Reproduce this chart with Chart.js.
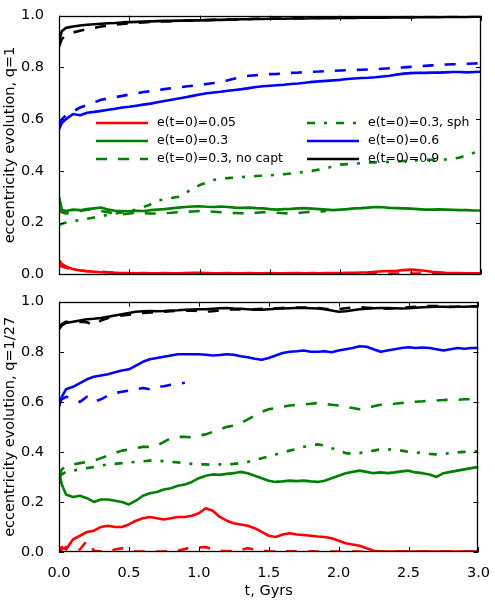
<!DOCTYPE html>
<html>
<head>
<meta charset="utf-8">
<script src="https://cdn.jsdelivr.net/npm/chart.js@4.4.0/dist/chart.umd.min.js"></script>
<style>
  body { margin: 0; background: #fff; }
  #wrap { position: relative; width: 495px; height: 600px; }
  canvas { position: absolute; left: 0; }
</style>
</head>
<body>
<div id="wrap">
  <canvas id="topPanel" width="495" height="290" style="top:0"></canvas>
  <canvas id="bottomPanel" width="495" height="314" style="top:286px"></canvas>
</div>
<script>
// sample times (Gyr)
const times = [0, 0.02, 0.05, 0.1, 0.15, 0.2, 0.25, 0.3, 0.35, 0.4,
  0.45, 0.5, 0.55, 0.6, 0.65, 0.7, 0.75, 0.8, 0.85, 0.9,
  0.95, 1.0, 1.05, 1.1, 1.15, 1.2, 1.25, 1.3, 1.35, 1.4,
  1.45, 1.5, 1.55, 1.6, 1.65, 1.7, 1.75, 1.8, 1.85, 1.9,
  1.95, 2.0, 2.05, 2.1, 2.15, 2.2, 2.25, 2.3, 2.35, 2.4,
  2.45, 2.5, 2.55, 2.6, 2.65, 2.7, 2.75, 2.8, 2.85, 2.9,
  2.95, 3.0];

const xTicks = [0, 0.5, 1.0, 1.5, 2.0, 2.5, 3.0];
const yTicks = [0, 0.2, 0.4, 0.6, 0.8, 1.0];

const legendLabels = ['e(t=0)=0.05', 'e(t=0)=0.3', 'e(t=0)=0.3, no capt',
  'e(t=0)=0.3, sph', 'e(t=0)=0.6', 'e(t=0)=0.9'];

// ---- q = 1 ----
const q1_e005 = [0.055, 0.04, 0.03, 0.02, 0.015, 0.012, 0.01, 0.008, 0.007, 0.006,
  0.005, 0.005, 0.004, 0.005, 0.004, 0.004, 0.005, 0.004, 0.004, 0.005,
  0.006, 0.006, 0.005, 0.004, 0.004, 0.005, 0.004, 0.004, 0.005, 0.004,
  0.004, 0.005, 0.004, 0.004, 0.005, 0.005, 0.004, 0.005, 0.004, 0.005,
  0.005, 0.005, 0.006, 0.006, 0.007, 0.008, 0.01, 0.012, 0.013, 0.014,
  0.016, 0.018, 0.016, 0.014, 0.01, 0.008, 0.006, 0.005, 0.005, 0.004,
  0.004, 0.004];
const q1_e005_nc = [0.035, 0.03, 0.025, 0.02, 0.016, 0.012, 0.012, 0.01, 0.008, 0.006,
  0.004, 0.003, 0.003, 0.003, 0.003, 0.003, 0.003, 0.003, 0.003, 0.003,
  0.003, 0.003, 0.003, 0.003, 0.003, 0.003, 0.003, 0.003, 0.003, 0.003,
  0.003, 0.003, 0.003, 0.003, 0.003, 0.003, 0.003, 0.003, 0.003, 0.003,
  0.003, 0.003, 0.003, 0.003, 0.003, 0.003, 0.003, 0.003, 0.003, 0.003,
  0.003, 0.003, 0.003, 0.003, 0.003, 0.003, 0.003, 0.003, 0.003, 0.003,
  0.003, 0.003];
const q1_e03 = [0.30, 0.25, 0.245, 0.25, 0.248, 0.252, 0.255, 0.258, 0.25, 0.246,
  0.245, 0.244, 0.246, 0.245, 0.248, 0.25, 0.252, 0.255, 0.258, 0.26,
  0.262, 0.263, 0.261, 0.26, 0.262, 0.26, 0.258, 0.257, 0.258, 0.256,
  0.255, 0.252, 0.25, 0.252, 0.253, 0.255, 0.256, 0.254, 0.252, 0.25,
  0.248, 0.25, 0.252, 0.255, 0.256, 0.258, 0.26, 0.259, 0.257, 0.256,
  0.255, 0.254, 0.252, 0.25, 0.25, 0.251, 0.25, 0.249, 0.248, 0.248,
  0.247, 0.247];
const q1_e03_nc = [0.25, 0.24, 0.235, 0.24, 0.245, 0.25, 0.252, 0.245, 0.24, 0.235,
  0.232, 0.235, 0.238, 0.236, 0.235, 0.235, 0.237, 0.238, 0.24, 0.242,
  0.243, 0.245, 0.244, 0.242, 0.24, 0.238, 0.237, 0.236, 0.237, 0.238,
  0.24, 0.24, 0.238, 0.236, 0.235, 0.237, 0.24, 0.242, 0.243, 0.245,
  null, null, null, null, null, null, null, null, null, null,
  null, null, null, null, null, null, null, null, null, null,
  null, null];
const q1_e03_sph = [0.19, 0.195, 0.2, 0.205, 0.21, 0.215, 0.22, 0.225, 0.23, 0.235,
  0.24, 0.245, 0.25, 0.26, 0.27, 0.285, 0.29, 0.295, 0.30, 0.315,
  0.33, 0.345, 0.355, 0.365, 0.37, 0.372, 0.374, 0.376, 0.378, 0.38,
  0.381, 0.383, 0.385, 0.387, 0.39, 0.393, 0.396, 0.4, 0.405, 0.41,
  0.418, 0.424, 0.426, 0.428, 0.43, 0.432, 0.433, 0.434, 0.435, 0.437,
  0.438, 0.44, 0.441, 0.442, 0.443, 0.444, 0.444, 0.446, 0.452, 0.46,
  0.47, 0.478];
const q1_e06 = [0.56, 0.585, 0.60, 0.62, 0.615, 0.625, 0.628, 0.632, 0.636, 0.64,
  0.645, 0.648, 0.652, 0.656, 0.66, 0.665, 0.67, 0.675, 0.68, 0.685,
  0.69, 0.695, 0.70, 0.703, 0.706, 0.71, 0.713, 0.716, 0.72, 0.724,
  0.727, 0.729, 0.731, 0.733, 0.736, 0.738, 0.741, 0.744, 0.746, 0.748,
  0.75, 0.752, 0.755, 0.757, 0.759, 0.76, 0.762, 0.765, 0.768, 0.772,
  0.776, 0.778, 0.779, 0.779, 0.78, 0.78, 0.781, 0.782, 0.782, 0.781,
  0.782, 0.783];
const q1_e06_nc = [0.58, 0.60, 0.615, 0.63, 0.645, 0.655, 0.665, 0.675, 0.68, 0.685,
  0.69, 0.695, 0.70, 0.705, 0.708, 0.712, 0.716, 0.72, 0.723, 0.726,
  0.729, 0.732, 0.736, 0.74, 0.745, 0.75, 0.757, 0.763, 0.768, 0.77,
  0.772, 0.774, 0.775, 0.777, 0.779, 0.78, 0.782, 0.783, 0.784, 0.786,
  0.787, 0.788, 0.789, 0.79, 0.791, 0.792, 0.793, 0.795, 0.797, 0.799,
  0.80, 0.802, 0.804, 0.806, 0.808, 0.81, 0.811, 0.812, 0.813, 0.814,
  0.815, 0.816];
const q1_e09 = [0.90, 0.94, 0.953, 0.958, 0.962, 0.965, 0.967, 0.969, 0.971, 0.972,
  0.974, 0.975, 0.976, 0.977, 0.978, 0.979, 0.98, 0.98, 0.981, 0.981,
  0.982, 0.982, 0.983, 0.984, 0.984, 0.985, 0.985, 0.986, 0.986, 0.987,
  0.987, 0.988, 0.988, 0.988, 0.989, 0.989, 0.989, 0.99, 0.99, 0.99,
  0.99, 0.991, 0.991, 0.991, 0.992, 0.992, 0.992, 0.992, 0.993, 0.993,
  0.993, 0.993, 0.994, 0.994, 0.994, 0.994, 0.995, 0.995, 0.995, 0.995,
  0.996, 0.996];
const q1_e09_nc = [0.88, 0.91, 0.925, 0.935, 0.942, 0.948, 0.953, 0.958, 0.962, 0.965,
  0.968, 0.97, 0.972, 0.974, 0.976, 0.977, 0.978, 0.979, 0.98, 0.981,
  0.981, 0.982, 0.983, 0.984, 0.985, 0.985, 0.986, 0.987, 0.987, 0.988,
  0.988, 0.989, 0.989, 0.99, 0.99, 0.99, 0.991, 0.991, 0.991, 0.992,
  0.992, 0.992, 0.993, 0.993, 0.993, 0.994, 0.994, 0.994, 0.994, 0.995,
  0.995, 0.995, 0.995, 0.996, 0.996, 0.996, 0.996, 0.997, 0.997, 0.997,
  0.997, 0.998];

// ---- q = 1/27 ----
const q27_e005 = [0.0, 0.02, 0.01, 0.05, 0.065, 0.08, 0.085, 0.10, 0.105, 0.10,
  0.10, 0.11, 0.125, 0.135, 0.14, 0.135, 0.13, 0.135, 0.14, 0.14,
  0.145, 0.155, 0.175, 0.165, 0.14, 0.125, 0.115, 0.11, 0.105, 0.095,
  0.08, 0.065, 0.06, 0.07, 0.075, 0.07, 0.068, 0.065, 0.062, 0.06,
  0.055, 0.045, 0.035, 0.03, 0.025, 0.015, 0.005, 0.002, 0.002, 0.002,
  0.002, 0.002, 0.002, 0.002, 0.002, 0.002, 0.002, 0.002, 0.002, 0.002,
  0.002, 0.002];
const q27_e005_nc = [0.0, 0.01, 0.02, 0.005, 0.01, 0.045, 0.005, 0.002, 0.0, 0.01,
  0.015, 0.005, 0.002, 0.002, 0.003, 0.002, 0.002, 0.003, 0.005, 0.012,
  0.02, 0.018, 0.02, 0.01, 0.005, 0.003, 0.004, 0.008, 0.015, 0.01,
  0.005, 0.003, 0.002, 0.002, 0.003, 0.002, 0.002, 0.003, 0.002, 0.002,
  0.002, 0.002, 0.002, 0.002, 0.002, 0.002, 0.002, 0.002, 0.002, 0.002,
  0.002, 0.002, 0.002, 0.002, 0.002, 0.002, 0.002, 0.002, 0.002, 0.002,
  0.002, 0.002];
const q27_e03 = [0.32, 0.27, 0.23, 0.22, 0.225, 0.215, 0.20, 0.21, 0.21, 0.205,
  0.20, 0.19, 0.205, 0.225, 0.235, 0.24, 0.25, 0.255, 0.265, 0.27,
  0.28, 0.295, 0.305, 0.31, 0.308, 0.312, 0.315, 0.32, 0.315, 0.305,
  0.295, 0.285, 0.28, 0.282, 0.285, 0.283, 0.285, 0.282, 0.28, 0.285,
  0.295, 0.305, 0.315, 0.32, 0.325, 0.32, 0.315, 0.318, 0.315, 0.318,
  0.322, 0.325, 0.318, 0.315, 0.31, 0.30, 0.315, 0.32, 0.325, 0.33,
  0.335, 0.34];
const q27_e03_nc = [0.30, 0.33, 0.345, 0.35, 0.355, 0.36, 0.365, 0.375, 0.385, 0.395,
  0.405, 0.41, 0.415, 0.42, 0.42, 0.425, 0.44, 0.455, 0.46, 0.46,
  0.458, 0.465, 0.47, 0.48, 0.49, 0.50, 0.505, 0.515, 0.53, 0.545,
  0.56, 0.57, 0.575, 0.58, 0.585, 0.588, 0.59, 0.592, 0.595, 0.592,
  0.588, 0.585, 0.58, 0.575, 0.57, 0.575, 0.582, 0.588, 0.59, 0.592,
  0.595, 0.598, 0.60, 0.602, 0.605, 0.605, 0.607, 0.608, 0.608, 0.61,
  0.61, 0.612];
const q27_e03_sph = [0.30, 0.31, 0.32, 0.325, 0.33, 0.335, 0.34, 0.345, 0.35, 0.352,
  0.355, 0.358, 0.36, 0.362, 0.365, 0.365, 0.363, 0.36, 0.358, 0.355,
  0.352, 0.35, 0.35, 0.348, 0.35, 0.35, 0.352, 0.355, 0.36, 0.368,
  0.375, 0.382, 0.39, 0.398, 0.405, 0.412, 0.42, 0.425, 0.43, 0.425,
  0.415, 0.405, 0.395, 0.392, 0.395, 0.40, 0.405, 0.41, 0.41, 0.408,
  0.405, 0.40, 0.398, 0.395, 0.392, 0.39, 0.392, 0.395, 0.398, 0.40,
  0.402, 0.403];
const q27_e06 = [0.58, 0.62, 0.65, 0.66, 0.675, 0.69, 0.70, 0.705, 0.71, 0.718,
  0.725, 0.73, 0.745, 0.76, 0.77, 0.775, 0.78, 0.785, 0.79, 0.79,
  0.79, 0.79, 0.788, 0.785, 0.787, 0.79, 0.788, 0.782, 0.778, 0.772,
  0.768, 0.775, 0.785, 0.795, 0.80, 0.802, 0.805, 0.80, 0.80, 0.802,
  0.798, 0.805, 0.81, 0.815, 0.822, 0.82, 0.81, 0.80, 0.805, 0.81,
  0.815, 0.818, 0.815, 0.817, 0.815, 0.81, 0.805, 0.81, 0.815, 0.812,
  0.815, 0.815];
const q27_e06_nc = [0.60, 0.61, 0.62, 0.615, 0.60, 0.62, 0.60, 0.61, 0.625, 0.635,
  0.64, 0.645, 0.65, 0.655, 0.65, 0.66, 0.662, 0.668, 0.672, 0.676,
  null, null, null, null, null, null, null, null, null, null,
  null, null, null, null, null, null, null, null, null, null,
  null, null, null, null, null, null, null, null, null, null,
  null, null, null, null, null, null, null, null, null, null,
  null, null];
const q27_e09 = [0.89, 0.905, 0.915, 0.92, 0.925, 0.93, 0.932, 0.935, 0.94, 0.945,
  0.95, 0.955, 0.96, 0.962, 0.963, 0.962, 0.963, 0.965, 0.966, 0.968,
  0.969, 0.97, 0.97, 0.972, 0.974, 0.975, 0.973, 0.972, 0.97, 0.968,
  0.968, 0.97, 0.972, 0.973, 0.974, 0.975, 0.975, 0.974, 0.973, 0.97,
  0.965, 0.96, 0.962, 0.966, 0.97, 0.972, 0.974, 0.975, 0.975, 0.974,
  0.973, 0.974, 0.976, 0.978, 0.979, 0.98, 0.98, 0.979, 0.98, 0.98,
  0.981, 0.981];
const q27_e09_nc = [0.90, 0.91, 0.92, 0.915, 0.92, 0.918, 0.905, 0.925, 0.935, 0.94,
  0.945, 0.948, 0.95, 0.955, 0.957, 0.958, 0.96, 0.962, 0.963, 0.964,
  0.965, 0.962, 0.96, 0.962, 0.965, 0.968, 0.97, 0.969, 0.968, 0.97,
  0.972, 0.973, 0.974, 0.975, 0.976, 0.977, 0.977, 0.976, 0.975, 0.972,
  0.968, 0.97, 0.974, 0.977, 0.978, 0.976, 0.974, 0.973, 0.972, 0.974,
  0.976, 0.978, 0.98, 0.982, 0.983, 0.983, 0.982, 0.98, 0.98, 0.981,
  0.982, 0.982];

const dashes = { solid: [], dashed: [11, 11], dashdot: [8, 9, 3, 9] };

Chart.defaults.font.family = '"DejaVu Sans", sans-serif';
Chart.defaults.font.size = 14.5;
Chart.defaults.color = '#000';

function line(vals, color, style, slot) {
  return {
    label: slot === undefined ? '' : legendLabels[slot],
    legendSlot: slot,
    data: times.map((t, i) => ({ x: t, y: vals[i] })),
    borderColor: color,
    borderWidth: 2.6,
    borderDash: dashes[style],
    borderJoinStyle: 'round',
    pointRadius: 0,
    fill: false,
    tension: 0,
    spanGaps: false
  };
}

// frame + inward ticks on all four sides
const framePlugin = {
  id: 'frame',
  afterDatasetsDraw(chart) {
    const { ctx, chartArea: a, scales: { x, y } } = chart;
    ctx.save();
    ctx.strokeStyle = '#000';
    ctx.lineWidth = 1;
    ctx.setLineDash([]);
    ctx.beginPath();
    xTicks.forEach(v => {
      const px = Math.round(x.getPixelForValue(v)) + 0.5;
      ctx.moveTo(px, a.bottom); ctx.lineTo(px, a.bottom - 5);
      ctx.moveTo(px, a.top); ctx.lineTo(px, a.top + 5);
    });
    yTicks.forEach(v => {
      const py = Math.round(y.getPixelForValue(v)) + 0.5;
      ctx.moveTo(a.left, py); ctx.lineTo(a.left + 5, py);
      ctx.moveTo(a.right, py); ctx.lineTo(a.right - 5, py);
    });
    ctx.stroke();
    ctx.lineWidth = 1.3;
    ctx.strokeRect(Math.round(a.left) + 0.5, Math.round(a.top) + 0.5,
      Math.round(a.width) - 1, Math.round(a.height) - 1);
    ctx.restore();
  }
};

// two-column legend inside the upper panel
const legendPlugin = {
  id: 'twoColLegend',
  afterDatasetsDraw(chart) {
    const ctx = chart.ctx;
    ctx.save();
    ctx.font = '12.5px "DejaVu Sans", sans-serif';
    ctx.textBaseline = 'middle';
    ctx.fillStyle = '#000';
    chart.data.datasets.forEach(d => {
      if (d.legendSlot === undefined) return;
      const col = Math.floor(d.legendSlot / 3);
      const row = d.legendSlot % 3;
      const x0 = col ? 307 : 96;
      const yy = 123 + row * 18;
      ctx.strokeStyle = d.borderColor;
      ctx.lineWidth = d.borderWidth;
      ctx.setLineDash(d.borderDash);
      ctx.beginPath();
      ctx.moveTo(x0, yy);
      ctx.lineTo(x0 + 52, yy);
      ctx.stroke();
      ctx.fillText(d.label, x0 + 61, yy);
    });
    ctx.restore();
  }
};

function yScale(title) {
  return {
    type: 'linear', min: 0, max: 1,
    grid: { display: false }, border: { display: false },
    ticks: { stepSize: 0.2, padding: 7, callback: v => v.toFixed(1) },
    title: { display: true, text: title, padding: { top: 2, bottom: 0 } },
    afterFit: s => { s.width = 59; }
  };
}

function panelOptions(yTitle, xAxis, padding) {
  return {
    responsive: false,
    animation: false,
    devicePixelRatio: 1,
    layout: { padding },
    plugins: { legend: { display: false }, tooltip: { enabled: false } },
    scales: { x: xAxis, y: yScale(yTitle) }
  };
}

new Chart(document.getElementById('topPanel'), {
  type: 'line',
  data: {
    datasets: [
      line(q1_e005, '#ff0000', 'solid', 0),
      line(q1_e005_nc, '#ff0000', 'dashed'),
      line(q1_e03, '#008000', 'solid', 1),
      line(q1_e03_nc, '#008000', 'dashed', 2),
      line(q1_e03_sph, '#008000', 'dashdot', 3),
      line(q1_e06, '#0000ff', 'solid', 4),
      line(q1_e06_nc, '#0000ff', 'dashed'),
      line(q1_e09, '#000000', 'solid', 5),
      line(q1_e09_nc, '#000000', 'dashed')
    ]
  },
  options: panelOptions('eccentricity evolution, q=1',
    { type: 'linear', min: 0, max: 3, display: false },
    { top: 13, bottom: 9, left: 0, right: 14 }),
  plugins: [framePlugin, legendPlugin]
});

new Chart(document.getElementById('bottomPanel'), {
  type: 'line',
  data: {
    datasets: [
      line(q27_e005, '#ff0000', 'solid'),
      line(q27_e005_nc, '#ff0000', 'dashed'),
      line(q27_e03, '#008000', 'solid'),
      line(q27_e03_nc, '#008000', 'dashed'),
      line(q27_e03_sph, '#008000', 'dashdot'),
      line(q27_e06, '#0000ff', 'solid'),
      line(q27_e06_nc, '#0000ff', 'dashed'),
      line(q27_e09, '#000000', 'solid'),
      line(q27_e09_nc, '#000000', 'dashed')
    ]
  },
  options: panelOptions('eccentricity evolution, q=1/27',
    {
      type: 'linear', min: 0, max: 3,
      grid: { display: false }, border: { display: false },
      ticks: { stepSize: 0.5, padding: 5, maxRotation: 0, callback: v => v.toFixed(1) },
      title: { display: true, text: 't, Gyrs', padding: { top: 0, bottom: 0 } },
      afterFit: s => { s.height = 48; }
    },
    { top: 9, bottom: 0, left: 0, right: 14 }),
  plugins: [framePlugin]
});
</script>
</body>
</html>
